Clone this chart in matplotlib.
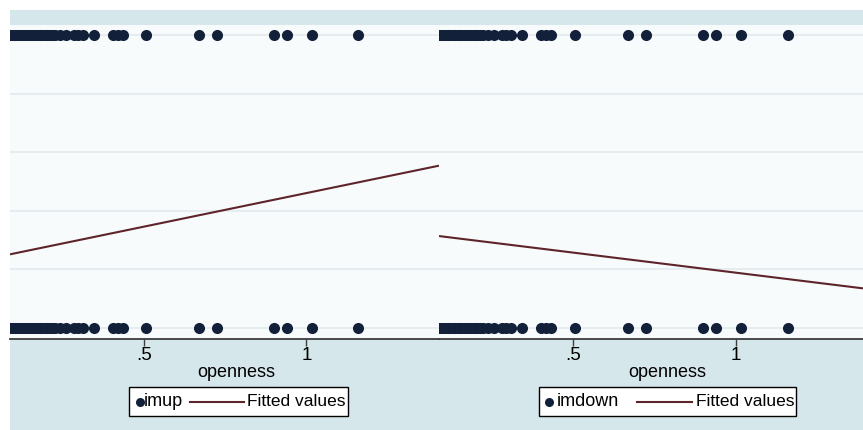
import matplotlib
matplotlib.use("Agg")
import matplotlib.pyplot as plt
import numpy as np
from matplotlib.lines import Line2D
from matplotlib.patches import Rectangle

plt.rcParams["font.family"] = ["Liberation Sans", "DejaVu Sans"]

# Observed openness values (each appears with outcome 0 and 1)
openness_obs = [0.070, 0.078, 0.086, 0.093, 0.101, 0.108, 0.116, 0.123, 0.131,
                0.139, 0.146, 0.154, 0.161, 0.169, 0.177, 0.184, 0.192, 0.199,
                0.207, 0.214, 0.224, 0.239, 0.258, 0.282, 0.295, 0.310, 0.344,
                0.403, 0.418, 0.434, 0.505, 0.668, 0.724, 0.900, 0.940, 1.017,
                1.159]
outcome_levels = [0, 1]

# Linear fits (intercept, slope) of each outcome on openness
fit_imup = (0.232, 0.2285)
fit_imdown = (0.326, -0.1372)

panels = [
    dict(name="imup", fit=fit_imup, xlim=(0.085, 1.409)),
    dict(name="imdown", fit=fit_imdown, xlim=(0.089, 1.390)),
]
xticks = [0.5, 1.0]
xtick_labels = [".5", "1"]
yticks = [0, 0.2, 0.4, 0.6, 0.8, 1.0]

W, H = 863, 430
DOT = "#13203a"
FIT = "#5e242b"
REGION = "#d5e7eb"
PLOTBG = "#f8fbfc"
GRID = "#e0eaee"

fig = plt.figure(figsize=(W / 100, H / 100), dpi=100, facecolor="white")


def fx(px):
    return px / W


def fy(py):
    return 1 - py / H


# graph region behind both plot regions
fig.patches.append(Rectangle((fx(10), 0), 1 - fx(10), fy(10), transform=fig.transFigure,
                             facecolor=REGION, edgecolor="none", zorder=-5))

ax_bottom, ax_top = 339, 25
axes_boxes = [(10, 439), (439, 863)]
xlabel_x = [0.527, 0.538]

for i, (p, (x0, x1)) in enumerate(zip(panels, axes_boxes)):
    ax = fig.add_axes([fx(x0), fy(ax_bottom), fx(x1 - x0), (ax_bottom - ax_top) / H])
    ax.set_zorder(1)
    ax.set_facecolor(PLOTBG)
    ax.set_xlim(*p["xlim"])
    ax.set_ylim(-0.0375, 1.034)
    for s in ["left", "right", "top"]:
        ax.spines[s].set_visible(False)
    ax.spines["bottom"].set_color("#3c3c3c")
    ax.spines["bottom"].set_linewidth(1.3)
    ax.set_yticks(yticks)
    ax.tick_params(axis="y", length=0, labelleft=False)
    ax.grid(axis="y", color=GRID, linewidth=1.1)
    ax.set_axisbelow(True)
    ax.set_xticks(xticks)
    ax.set_xticklabels(xtick_labels)
    ax.tick_params(axis="x", length=5, width=1, color="#3c3c3c", pad=1,
                   labelsize=13.5, labelcolor="black")
    ax.set_xlabel("openness", fontsize=13)
    ax.xaxis.set_label_coords(xlabel_x[i], -0.108)
    ax.xaxis.label.set_va("center")

    for lvl in outcome_levels:
        ax.plot(openness_obs, [lvl] * len(openness_obs), linestyle="none",
                marker="o", markersize=8.0, color=DOT, markeredgewidth=0, zorder=3)

    xs = np.array(ax.get_xlim())
    b0, b1 = p["fit"]
    ax.plot(xs, b0 + b1 * xs, color=FIT, linewidth=1.5, zorder=2,
            solid_capstyle="butt")


def legend_box(bx0, bx1, by0, by1, dot_x, label, label_x, line_x0, line_x1, fit_x):
    fig.patches.append(Rectangle((fx(bx0), fy(by1)), fx(bx1 - bx0), (by1 - by0) / H,
                                 transform=fig.transFigure, facecolor="white",
                                 edgecolor="black", linewidth=1.0, zorder=5))
    yc = (by0 + by1) / 2
    fig.lines.append(Line2D([fx(dot_x)], [fy(yc)], transform=fig.transFigure,
                            marker="o", markersize=6.5, color=DOT, markeredgewidth=0,
                            zorder=6))
    fig.text(fx(label_x), fy(yc), label, fontsize=13, va="center", ha="left", zorder=6)
    fig.lines.append(Line2D([fx(line_x0), fx(line_x1)], [fy(yc), fy(yc)],
                            transform=fig.transFigure, color=FIT, linewidth=1.5,
                            zorder=6))
    fig.text(fx(fit_x), fy(yc), "Fitted values", fontsize=12.5, va="center",
             ha="left", zorder=6)


legend_box(129, 348, 387, 416, 140, panels[0]["name"], 144, 190, 244, 247)
legend_box(539, 796, 387, 416, 549, panels[1]["name"], 557, 637, 692, 696)

fig.savefig("out.png", dpi=100, facecolor="white")
